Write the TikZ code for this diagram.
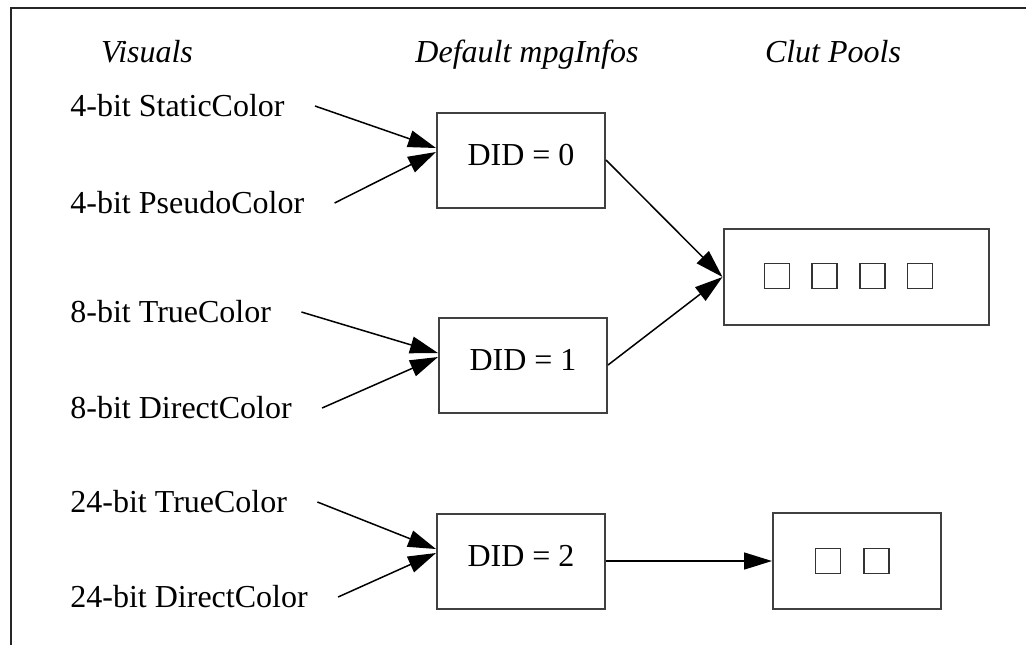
\documentclass[tikz,border=0pt]{standalone}
\usepackage{fontspec}
\setmainfont{Liberation Serif}
\usetikzlibrary{positioning, arrows.meta}

\begin{document}
\begin{tikzpicture}[x=0.5pt, y=-0.5pt, font=\fontsize{16}{19}\selectfont,
  info/.style = {draw=black!75, line width=1pt, minimum width=84pt, minimum height=47.5pt, text depth=5pt},
  pool/.style = {draw=black!75, line width=1pt, minimum height=48pt},
  slot/.style = {draw=black!80, line width=0.8pt, minimum size=12.5pt, inner sep=0pt},
  visual/.style = {anchor=west, inner xsep=15pt, inner ysep=0pt},
  head/.style = {anchor=base, font=\fontsize{16}{19}\selectfont\itshape},
  arr/.style = {-{Triangle[length=14pt, width=8.5pt]}, line width=0.75pt}]
\clip (0,0) rectangle (1026,644);
\draw[line width=1pt, black!85] (11,8) rectangle (1060,680);

% column heads
\node[head] (hv) at (147,62) {Visuals};
\node[head] (hm) at (527,62) {Default mpgInfos};
\node[head] (hc) at (833,62) {Clut Pools};

% visuals
\node[visual] (s4) at (40,106) {4-bit StaticColor};
\node[visual] (p4) at (40,203) {4-bit PseudoColor};
\node[visual] (t8) at (40,312) {8-bit TrueColor};
\node[visual] (d8) at (40,408) {8-bit DirectColor};
\node[visual] (t24) at (40,502) {24-bit TrueColor};
\node[visual] (d24) at (40,597) {24-bit DirectColor};

% mpgInfos
\node[info] (m0) at (521,160) {DID = 0};
\node[info] (m1) at (523,365) {DID = 1};
\node[info] (m2) at (521,561) {DID = 2};

% clut pools
\node[pool, minimum width=132.5pt] (c0) at (856,277) {};
\node[slot] (c0a) at (777,276) {};
\node[slot, right=10.5pt of c0a] (c0b) {};
\node[slot, right=10.5pt of c0b] (c0c) {};
\node[slot, right=10.5pt of c0c] (c0d) {};
\node[pool, minimum width=84pt] (c1) at (857,561) {};
\node[slot] (c1a) at (828,561) {};
\node[slot, right=11pt of c1a] (c1b) {};

\draw[arr] (s4.east) -- ([yshift=6pt]m0.west);
\draw[arr] (p4.east) -- ([yshift=4pt]m0.west);
\draw[arr] (t8.east) -- ([yshift=6pt]m1.west);
\draw[arr] (d8.east) -- ([yshift=4pt]m1.west);
\draw[arr] (t24.east) -- ([yshift=6pt]m2.west);
\draw[arr] (d24.east) -- ([yshift=4pt]m2.west);
\draw[arr] (m0.east) -- (c0.west);
\draw[arr] (m1.east) -- (c0.west);
\draw[arr] (m2.east) -- (c1.west);
\end{tikzpicture}
\end{document}
